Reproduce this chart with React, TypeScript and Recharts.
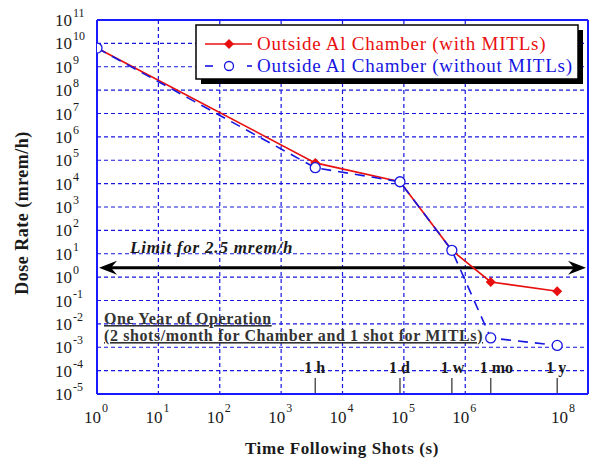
import React from 'react';
import { LineChart, Line, XAxis, YAxis, CartesianGrid, ReferenceLine } from 'recharts';

// time after shots (s): 1 s, 1 h, 1 d, 1 w, 1 mo, 1 y
const times = [1, 3600, 86400, 604800, 2.6e6, 3.15e7];
const withMitls = [6.3e9, 7.7e4, 1.2e4, 14, 0.62, 0.25];
const withoutMitls = [6.3e9, 4.8e4, 1.2e4, 14, 2.5e-3, 1.2e-3];

const xDecades = [0, 1, 2, 3, 4, 5, 6, 7, 8];
const yDecades = [-5, -4, -3, -2, -1, 0, 1, 2, 3, 4, 5, 6, 7, 8, 9, 10, 11];
const timeMarks = [
  { t: 3600, label: '1 h' },
  { t: 86400, label: '1 d' },
  { t: 604800, label: '1 w' },
  { t: 2.6e6, label: '1 mo' },
  { t: 3.15e7, label: '1 y' },
];
const limitValue = 2.5;

const seriesNames = ['Outside Al Chamber (with MITLs)', 'Outside Al Chamber (without MITLs)'];

const data = times.map((t, i) => ({ t, a: withMitls[i], b: withoutMitls[i] }));

const majorX = xDecades.map((d) => Math.pow(10, d));
const majorY = yDecades.map((d) => Math.pow(10, d));
const minors = (decades: number[]) => {
  const out: number[] = [];
  decades.slice(0, -1).forEach((d) => {
    for (let m = 2; m <= 9; m++) out.push(m * Math.pow(10, d));
  });
  return out;
};
const minorX = minors(xDecades);
const minorY = minors(yDecades);

const FONT = "'Liberation Serif', 'DejaVu Serif', serif";
const RED = '#e80f0f';
const BLUE = '#1616e0';
const AXIS = '#1a1aff';
const TEXT = '#1a1a1a';

const expOf = (v: number) => Math.round(Math.log10(v));

const YTick = (props: any) => {
  const { x, y, payload } = props;
  return (
    <g>
      <text x={x - 25} y={y + 6} textAnchor="end" fontFamily={FONT} fontSize={17} fill={TEXT}>10</text>
      <text x={x - 24} y={y - 3} textAnchor="start" fontFamily={FONT} fontSize={12} fill={TEXT}>{expOf(payload.value)}</text>
    </g>
  );
};

const XTick = (props: any) => {
  const { x, y, payload } = props;
  return (
    <g>
      <text x={x + 4} y={y + 29} textAnchor="end" fontFamily={FONT} fontSize={17} fill={TEXT}>10</text>
      <text x={x + 5} y={y + 18} textAnchor="start" fontFamily={FONT} fontSize={12} fill={TEXT}>{expOf(payload.value)}</text>
    </g>
  );
};

const Diamond = (props: any) => {
  const { cx, cy, index } = props;
  if (cx == null || cy == null) return <g key={index} />;
  return <path key={index} d={`M${cx},${cy - 5}L${cx + 5},${cy}L${cx},${cy + 5}L${cx - 5},${cy}Z`} fill={RED} />;
};

const OpenCircle = (props: any) => {
  const { cx, cy, index } = props;
  if (cx == null || cy == null) return <g key={index} />;
  return <circle key={index} cx={cx} cy={cy} r={5} fill="#fff" stroke={BLUE} strokeWidth={1.3} />;
};

const markShape = (label: string) => (props: any) => {
  const { x1, y1, y2 } = props;
  const bottom = Math.max(y1, y2);
  return (
    <g>
      <line x1={x1} x2={x1} y1={bottom - 16} y2={bottom} stroke="#555" strokeWidth={1.5} />
      <text x={x1 - 11} y={bottom - 21} textAnchor="start" fontFamily={FONT} fontSize={16} fontWeight="bold" fill={TEXT}>{label}</text>
    </g>
  );
};

const limitShape = (props: any) => {
  const { x1, x2, y1 } = props;
  const l = Math.min(x1, x2) + 2;
  const r = Math.max(x1, x2) - 2;
  return (
    <g>
      <line x1={l + 8} x2={r - 8} y1={y1} y2={y1} stroke="#000" strokeWidth={3} />
      <path d={`M${l},${y1}L${l + 18},${y1 - 7}L${l + 12},${y1}L${l + 18},${y1 + 7}Z`} fill="#000" />
      <path d={`M${r},${y1}L${r - 18},${y1 - 7}L${r - 12},${y1}L${r - 18},${y1 + 7}Z`} fill="#000" />
      <text x={l + 31} y={y1 - 15} fontFamily={FONT} fontSize={17} fontStyle="italic" fontWeight={600} letterSpacing={0.8} fill={TEXT}>
        Limit for {limitValue} mrem/h
      </text>
    </g>
  );
};

export default function App() {
  return (
    <div style={{ position: 'absolute', left: 0, top: 0, width: 600, height: 460, background: '#fff' }}>
      <LineChart width={600} height={460} data={data} margin={{ top: 20, right: 12, left: 0, bottom: 0 }}>
        <CartesianGrid xAxisId="x" yAxisId="y" stroke={BLUE} strokeDasharray="4 3" strokeWidth={1.2} />
        <XAxis
          xAxisId="x" dataKey="t" type="number" scale="log" domain={[1, 1e8]} ticks={majorX}
          allowDataOverflow height={66} tickLine={false} tickSize={0} tickMargin={0} tick={<XTick />}
          axisLine={{ stroke: AXIS, strokeWidth: 2 }}
        />
        <XAxis xAxisId="xbm" dataKey="t" type="number" scale="log" domain={[1, 1e8]} ticks={minorX}
          allowDataOverflow mirror tick={false} tickSize={4} axisLine={false} tickLine={{ stroke: AXIS }} />
        <XAxis xAxisId="xbM" dataKey="t" type="number" scale="log" domain={[1, 1e8]} ticks={majorX}
          allowDataOverflow mirror tick={false} tickSize={8} axisLine={false} tickLine={{ stroke: AXIS }} />
        <XAxis xAxisId="xtm" orientation="top" dataKey="t" type="number" scale="log" domain={[1, 1e8]} ticks={minorX}
          allowDataOverflow mirror tick={false} tickSize={4} axisLine={false} tickLine={{ stroke: AXIS }} />
        <XAxis xAxisId="xtM" orientation="top" dataKey="t" type="number" scale="log" domain={[1, 1e8]} ticks={majorX}
          allowDataOverflow mirror tick={false} tickSize={8} axisLine={{ stroke: AXIS, strokeWidth: 2 }} tickLine={{ stroke: AXIS }} />

        <YAxis
          yAxisId="y" type="number" scale="log" domain={[1e-5, 1e11]} ticks={majorY} allowDataOverflow
          width={97} tickLine={false} tickSize={0} tickMargin={0} tick={<YTick />}
          axisLine={{ stroke: AXIS, strokeWidth: 2 }}
        />
        <YAxis yAxisId="ylm" type="number" scale="log" domain={[1e-5, 1e11]} ticks={minorY} allowDataOverflow
          mirror tick={false} tickSize={4} axisLine={false} tickLine={{ stroke: AXIS }} />
        <YAxis yAxisId="ylM" type="number" scale="log" domain={[1e-5, 1e11]} ticks={majorY} allowDataOverflow
          mirror tick={false} tickSize={8} axisLine={false} tickLine={{ stroke: AXIS }} />
        <YAxis yAxisId="yrm" orientation="right" type="number" scale="log" domain={[1e-5, 1e11]} ticks={minorY} allowDataOverflow
          mirror tick={false} tickSize={4} axisLine={false} tickLine={{ stroke: AXIS }} />
        <YAxis yAxisId="yrM" orientation="right" type="number" scale="log" domain={[1e-5, 1e11]} ticks={majorY} allowDataOverflow
          mirror tick={false} tickSize={8} axisLine={{ stroke: AXIS, strokeWidth: 2 }} tickLine={{ stroke: AXIS }} />

        {timeMarks.map((m) => (
          <ReferenceLine key={m.label} xAxisId="x" yAxisId="y" x={m.t} shape={markShape(m.label)} />
        ))}
        <ReferenceLine xAxisId="x" yAxisId="y" y={limitValue} shape={limitShape} />

        <Line xAxisId="x" yAxisId="y" type="linear" dataKey="a" name={seriesNames[0]} stroke={RED} strokeWidth={1.6}
          dot={Diamond} isAnimationActive={false} />
        <Line xAxisId="x" yAxisId="y" type="linear" dataKey="b" name={seriesNames[1]} stroke={BLUE} strokeWidth={1.6}
          strokeDasharray="10 7" dot={OpenCircle} isAnimationActive={false} />
      </LineChart>

      <svg width={600} height={460} style={{ position: 'absolute', left: 0, top: 0, pointerEvents: 'none' }}>
        {/* legend box with shadow */}
        <rect x={201} y={30} width={382} height={54} fill="#000" />
        <rect x={196} y={25} width={382} height={54} fill="#fff" stroke="#000" strokeWidth={1.5} />
        <line x1={205} x2={252} y1={44} y2={44} stroke={RED} strokeWidth={1.6} />
        <path d="M229,39L234,44L229,49L224,44Z" fill={RED} />
        <text x={257} y={50} fontFamily={FONT} fontSize={19} letterSpacing={0.75} fill={RED}>{seriesNames[0]}</text>
        <line x1={205} x2={213} y1={66} y2={66} stroke={BLUE} strokeWidth={1.6} />
        <circle cx={229} cy={66} r={4.5} fill="#fff" stroke={BLUE} strokeWidth={1.3} />
        <line x1={247} x2={252} y1={66} y2={66} stroke={BLUE} strokeWidth={1.6} />
        <text x={257} y={72} fontFamily={FONT} fontSize={19} letterSpacing={0.75} fill={BLUE}>{seriesNames[1]}</text>

        <text x={104} y={324} fontFamily={FONT} fontSize={16} fontWeight="bold" letterSpacing={0.6} fill="#333" textDecoration="underline">One Year of Operation </text>
        <text x={104} y={341} fontFamily={FONT} fontSize={16} fontWeight="bold" letterSpacing={0.6} fill="#333" textDecoration="underline">(2 shots/month for Chamber and 1 shot for MITLs)</text>

        <text x={342} y={454} textAnchor="middle" fontFamily={FONT} fontSize={17} fontWeight="bold" letterSpacing={0.6} fill={TEXT}>Time Following Shots (s)</text>
        <text x={0} y={0} transform="translate(28,213) rotate(-90)" textAnchor="middle" fontFamily={FONT} fontSize={18} fontWeight="bold" letterSpacing={0.5} fill={TEXT}>Dose Rate (mrem/h)</text>
      </svg>
    </div>
  );
}
